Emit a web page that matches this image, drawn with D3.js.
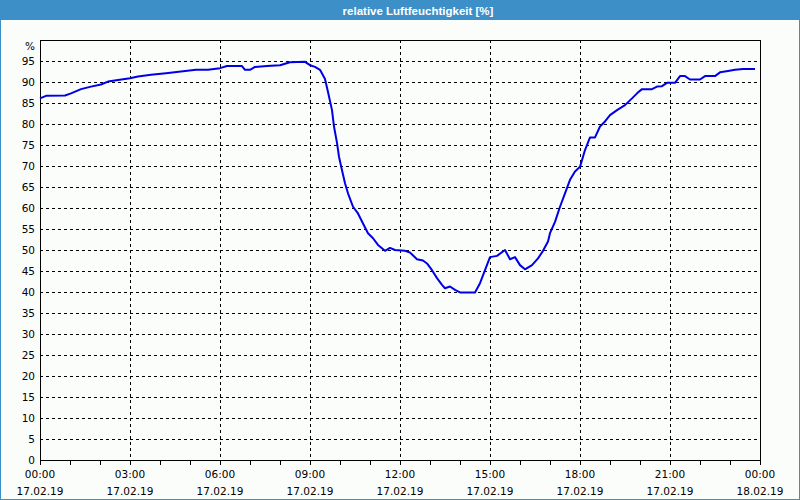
<!DOCTYPE html>
<html><head><meta charset="utf-8">
<script src="https://cdn.jsdelivr.net/npm/d3@7"></script>
<style>
html,body{margin:0;padding:0;background:#fbfdfb;}
svg{display:block;}
</style></head>
<body>
<svg id="chart" width="800" height="500"></svg>
<script>
const title = "relative Luftfeuchtigkeit [%]";
const times = ["00:00","00:12","00:50","01:02","01:22","01:42","02:02","02:16","02:36","03:00","03:16","03:42","04:12","04:42","05:12","05:36","06:00","06:14","06:44","06:50","07:00","07:10","07:34","08:00","08:20","08:50","09:00","09:10","09:20","09:30","09:36","09:44","09:48","09:54","09:58","10:04","10:10","10:16","10:26","10:36","10:46","10:56","11:06","11:16","11:30","11:40","11:50","12:10","12:20","12:34","12:46","12:54","13:04","13:14","13:24","13:30","13:40","13:50","14:00","14:30","14:40","14:50","15:00","15:14","15:30","15:40","15:50","16:00","16:10","16:24","16:36","16:46","16:56","17:00","17:10","17:20","17:30","17:40","17:50","18:00","18:10","18:20","18:30","18:40","18:50","19:00","19:14","19:30","19:44","19:54","20:04","20:24","20:34","20:44","20:54","21:10","21:20","21:30","21:40","22:00","22:10","22:30","22:40","22:56","23:10","23:26","23:50"];
const humidity = [86.1,86.7,86.8,87.3,88.3,88.9,89.4,90.1,90.5,90.9,91.3,91.7,92.1,92.5,92.9,92.9,93.3,93.8,93.8,92.9,92.9,93.6,93.8,94.0,94.7,94.8,94.0,93.6,92.9,90.7,87.6,83.3,79.4,75.5,72.2,69.0,65.9,63.5,60.3,58.7,56.3,54.0,52.8,51.2,49.8,50.5,50.0,49.8,49.4,47.8,47.5,46.8,45.2,43.3,41.7,40.9,41.3,40.5,39.9,39.9,42.1,45.2,48.3,48.6,50.0,47.8,48.3,46.4,45.4,46.4,48.0,49.8,52.0,54.0,56.7,60.3,63.5,66.7,68.7,69.8,73.8,76.8,76.8,79.4,80.6,82.1,83.3,84.5,86.1,87.3,88.3,88.3,88.9,89.0,89.8,89.8,91.4,91.4,90.6,90.6,91.4,91.4,92.3,92.6,92.9,93.1,93.1];
const yTicks = [0,5,10,15,20,25,30,35,40,45,50,55,60,65,70,75,80,85,90,95];
const xTickTimes = ["00:00","03:00","06:00","09:00","12:00","15:00","18:00","21:00","00:00"];
const xTickDates = ["17.02.19","17.02.19","17.02.19","17.02.19","17.02.19","17.02.19","17.02.19","17.02.19","18.02.19"];

const svg = d3.select("#chart");
const W = 800, H = 500;
const plot = {left: 40, right: 760, top: 40, bottom: 460};

// background & window frame
svg.append("rect").attr("x",0).attr("y",0).attr("width",W).attr("height",H).attr("fill","#fbfdfb");
svg.append("rect").attr("x",0).attr("y",0).attr("width",W).attr("height",20).attr("fill","#3d8fc7");
svg.append("rect").attr("x",0.5).attr("y",0.5).attr("width",W-1).attr("height",H-1)
  .attr("fill","none").attr("stroke","#3d8fc7").attr("stroke-width",1);
svg.append("text").attr("x",418).attr("y",14.5).attr("text-anchor","middle")
  .attr("font-family","'Liberation Sans', Arial, sans-serif").attr("font-weight","bold")
  .attr("font-size","11.5px").attr("fill","#ffffff").text(title);

const parse = t => { const [h,m] = t.split(":").map(Number); return h + m/60; };
const data = times.map((t,i)=>({x: parse(t), y: humidity[i]}));

const x = d3.scaleLinear().domain([0,24]).range([plot.left, plot.right]);
const y = d3.scaleLinear().domain([0,100]).range([plot.bottom, plot.top]);

const font = "'DejaVu Sans', Verdana, sans-serif";
const g = svg.append("g").attr("shape-rendering","crispEdges");

// horizontal grid
g.selectAll("line.hg").data(yTicks.filter(v=>v>0)).join("line")
  .attr("x1",plot.left).attr("x2",plot.right)
  .attr("y1",d=>Math.round(y(d))+0.5).attr("y2",d=>Math.round(y(d))+0.5)
  .attr("stroke","#000").attr("stroke-dasharray","3,3");
// vertical grid
const majorHours = d3.range(3,24,3);
g.selectAll("line.vg").data(majorHours).join("line")
  .attr("y1",plot.top).attr("y2",plot.bottom)
  .attr("x1",d=>Math.round(x(d))+0.5).attr("x2",d=>Math.round(x(d))+0.5)
  .attr("stroke","#000").attr("stroke-dasharray","3,3");

// x axis with hourly ticks
const xAxis = d3.axisBottom(x).tickValues(d3.range(0,25,1)).tickSize(4).tickFormat("");
const xa = svg.append("g").attr("transform",`translate(0,${plot.bottom+0.5})`).call(xAxis);
xa.select(".domain").remove();
xa.selectAll("line").attr("stroke","#000").attr("shape-rendering","crispEdges");

// y labels
const ya = svg.append("g").attr("transform",`translate(${plot.left},0)`)
  .call(d3.axisLeft(y).tickValues(yTicks).tickSize(0).tickPadding(5));
ya.select(".domain").remove();
ya.selectAll("text").attr("font-family",font).attr("font-size","10.5px").attr("fill","#000").attr("dy","0.35em");
svg.append("text").attr("x",35).attr("y",50).attr("text-anchor","end")
  .attr("font-family",font).attr("font-size","10.5px").attr("fill","#000").text("%");

// x labels
const xl = svg.append("g");
xTickTimes.forEach((t,i)=>{
  const xx = x(i*3);
  xl.append("text").attr("x",xx).attr("y",478).attr("text-anchor","middle")
    .attr("font-family",font).attr("font-size","10.5px").attr("fill","#000").text(t);
  xl.append("text").attr("x",xx).attr("y",495).attr("text-anchor","middle")
    .attr("font-family",font).attr("font-size","10.5px").attr("fill","#000").text(xTickDates[i]);
});

// frame
svg.append("rect").attr("x",plot.left+0.5).attr("y",plot.top+0.5)
  .attr("width",plot.right-plot.left).attr("height",plot.bottom-plot.top)
  .attr("fill","none").attr("stroke","#000").attr("shape-rendering","crispEdges");

// line
const line = d3.line().x(d=>x(d.x)).y(d=>y(d.y));
svg.append("path").datum(data).attr("d",line)
  .attr("fill","none").attr("stroke","#0000e6").attr("stroke-width",2)
  .attr("stroke-linejoin","round");
</script>
</body></html>
